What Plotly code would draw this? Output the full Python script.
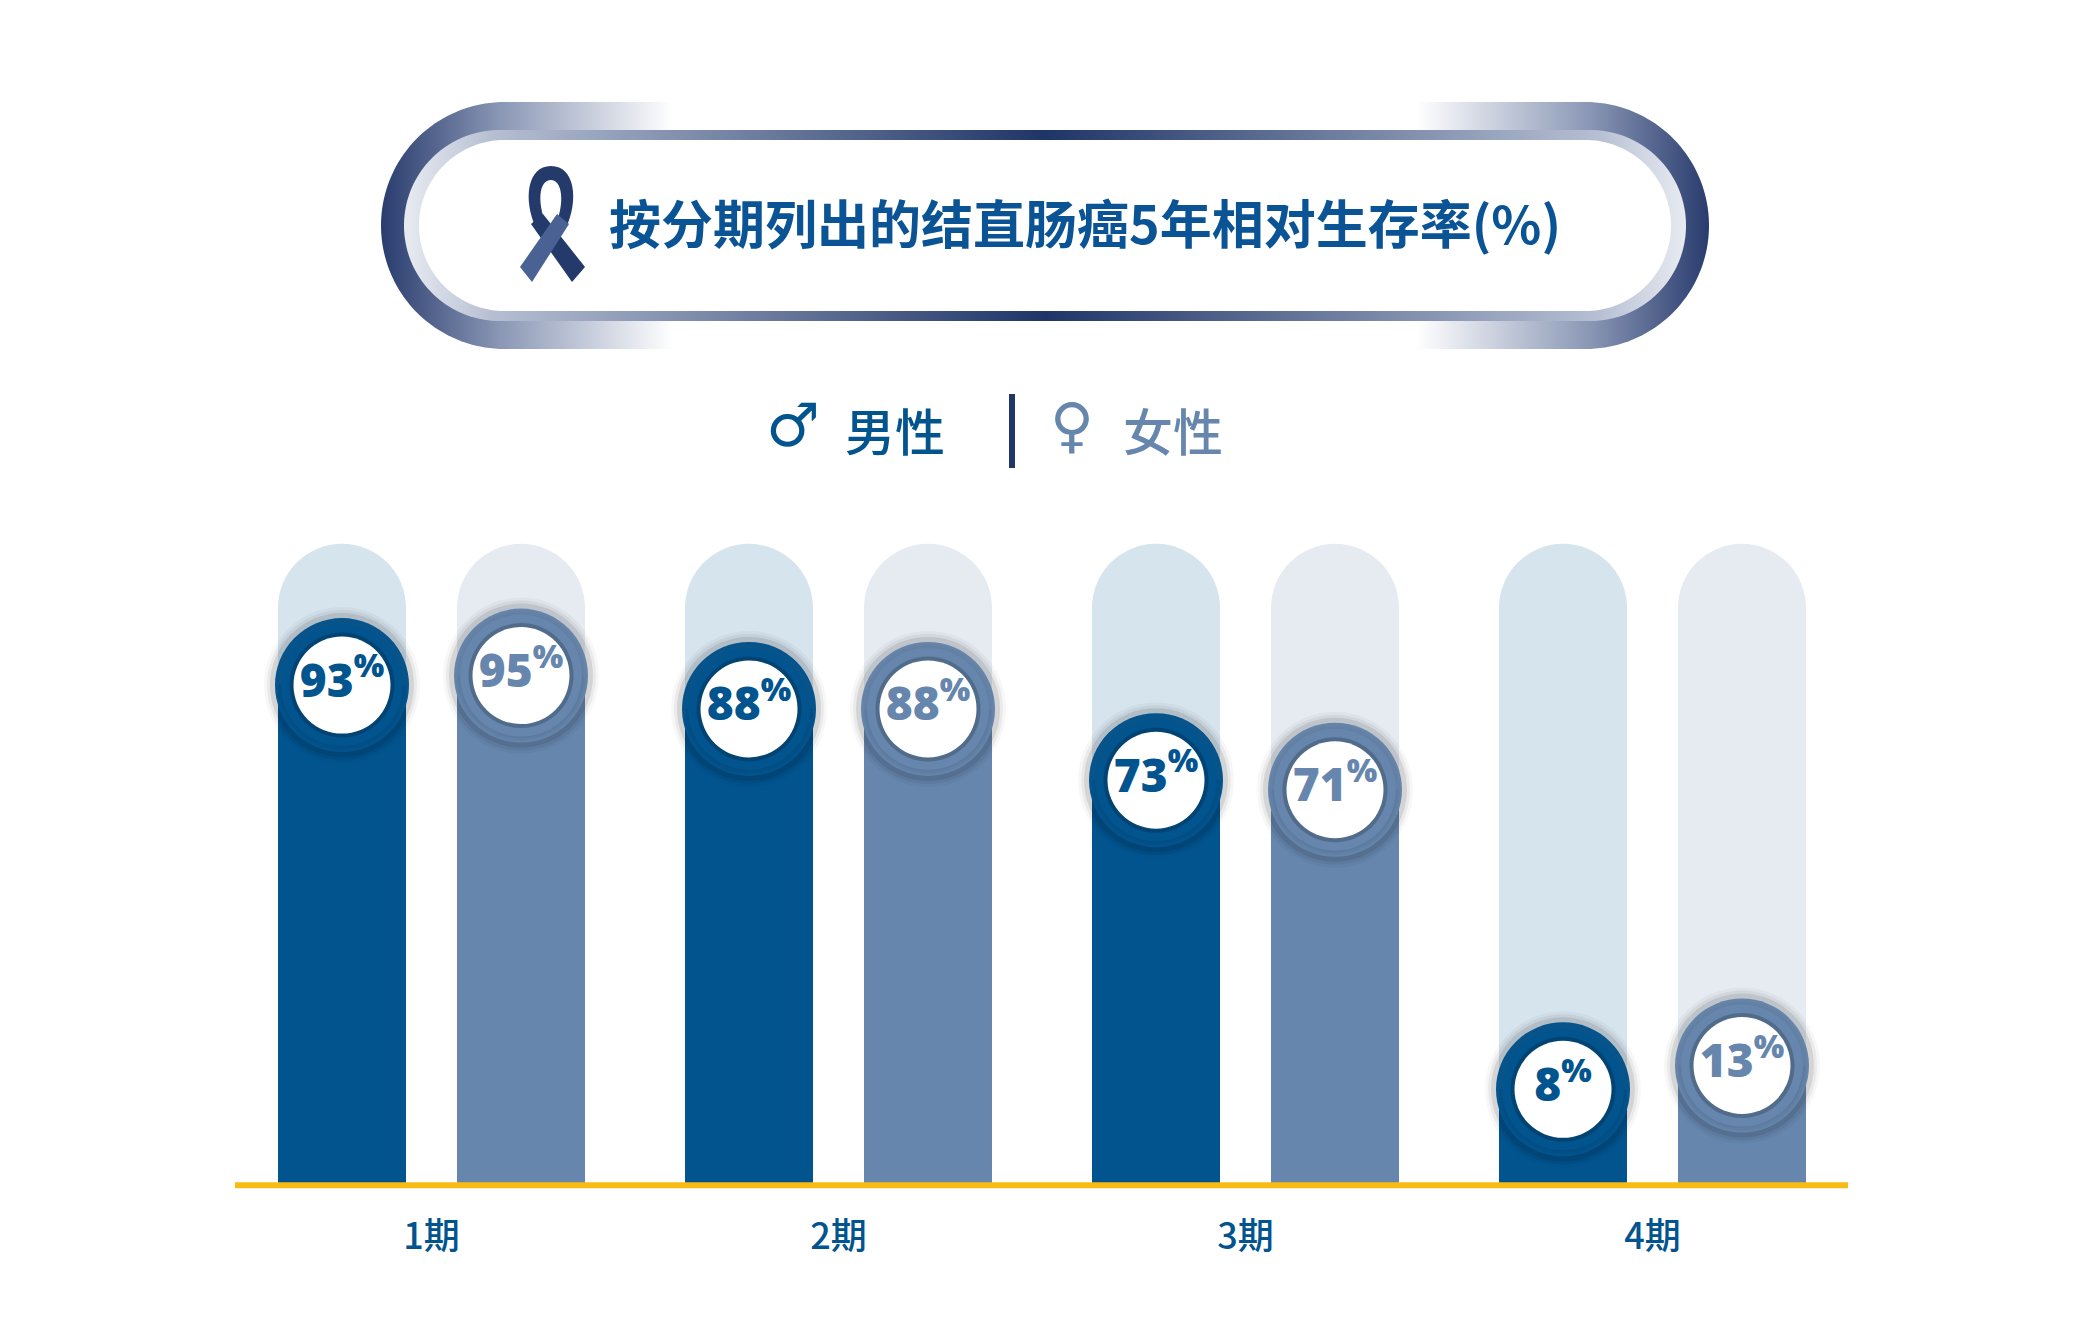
import numpy as np
import plotly.graph_objects as go

# ---- data ----
stages = ["1期", "2期", "3期", "4期"]
male = [93, 88, 73, 8]
female = [95, 88, 71, 13]
series_names = ["男性", "女性"]
title_text = "按分期列出的结直肠癌5年相对生存率(%)"

# ---- style ----
W, H = 2068, 1318     # page keeps an 8px body margin around the figure
MALE = "#02548f"
FEMALE = "#6686ad"
MALE_TRACK = "#d6e4ee"
FEMALE_TRACK = "#e6ebf2"
NAVY = "#213768"
GOLD = "#f8bb14"
TITLE_BLUE = "#0a5395"

BASE = -11.7          # value sitting on the yellow line
TRACK_TOP = 122.7     # top of the pale rounded tracks
PX_PER_UNIT = 4.7555
BASELINE_PX = 1175
X_PX = 407            # px per stage
X0_PX = 423.5         # px of the first stage centre
OFF = 89.5 / X_PX     # half distance between the two bars of a stage
BAR_W = 128 / X_PX

plot_h = BASELINE_PX
y_range = [BASE, BASE + plot_h / PX_PER_UNIT]
x_range = [-X0_PX / X_PX, (W - X0_PX) / X_PX]


def stadium(x0, x1, y0, y1, n=80):
    r = (y1 - y0) / 2
    cy = (y0 + y1) / 2
    t = np.linspace(-np.pi / 2, np.pi / 2, n)
    xr, yr = x1 - r + r * np.cos(t), cy + r * np.sin(t)
    t2 = np.linspace(np.pi / 2, 3 * np.pi / 2, n)
    xl, yl = x0 + r + r * np.cos(t2), cy + r * np.sin(t2)
    return np.r_[xr, xl, xr[:1]], np.r_[yr, yl, yr[:1]]


fig = go.Figure()

# pale tracks + value bars
series = [
    (male, -OFF, MALE, MALE_TRACK),
    (female, OFF, FEMALE, FEMALE_TRACK),
]
for vals, off, col, track in series:
    xs = [i + off for i in range(len(stages))]
    fig.add_trace(go.Bar(
        x=xs, y=[TRACK_TOP - BASE] * len(stages), base=BASE, width=BAR_W,
        marker=dict(color=track, line_width=0, cornerradius="50%"),
        hoverinfo="skip", showlegend=False,
    ))
for vals, off, col, track in series:
    xs = [i + off for i in range(len(stages))]
    fig.add_trace(go.Bar(
        x=xs, y=[v - BASE for v in vals], base=BASE, width=BAR_W,
        marker=dict(color=col, line_width=0),
        hoverinfo="skip", showlegend=False,
    ))

# value rings
for vals, off, col, track in series:
    xs = [i + off for i in range(len(stages))]
    for size, alpha in [(156, 0.03), (150, 0.05), (144, 0.09)]:
        fig.add_trace(go.Scatter(
            x=xs, y=vals, mode="markers", hoverinfo="skip", showlegend=False,
            marker=dict(size=size, color=f"rgba(0,0,0,{alpha})", line_width=0),
        ))
    fig.add_trace(go.Scatter(
        x=xs, y=vals, mode="markers", hoverinfo="skip", showlegend=False,
        marker=dict(size=134, color=col, line_width=0,
                    gradient=dict(type="radial", color="rgba(0,0,0,0.35)")),
    ))
    fig.add_trace(go.Scatter(
        x=xs, y=vals, mode="markers", hoverinfo="skip", showlegend=False,
        marker=dict(size=122, color=col, line_width=0),
    ))
    fig.add_trace(go.Scatter(
        x=xs, y=vals, mode="markers", hoverinfo="skip", showlegend=False,
        marker=dict(size=105, color="rgba(0,0,0,0.2)", line_width=0),
    ))
    fig.add_trace(go.Scatter(
        x=xs, y=vals, mode="markers+text", hoverinfo="skip", showlegend=False,
        marker=dict(size=97, color="white", line_width=0),
        text=[f"{v}<sup>%</sup>" for v in vals],
        textposition="middle center",
        textfont=dict(family="Open Sans", size=46, color=col, weight=800),
    ))

# title pill (pixel overlay axes)
pill_layers = [
    ((373, 1701, 94, 341), [[0, "#293c6e"], [0.09, "#8a97b5"], [0.22, "#ffffff"],
                            [0.78, "#ffffff"], [0.91, "#8a97b5"], [1, "#293c6e"]]),
    ((396, 1678, 122, 313), [[0, "#e8ebf1"], [0.07, "#b5bed2"], [0.5, "#1f3567"],
                             [0.93, "#b5bed2"], [1, "#e8ebf1"]]),
    ((411, 1663, 132, 303), [[0, "#ffffff"], [1, "#ffffff"]]),
]
for (x0, x1, y0, y1), cs in pill_layers:
    px, py = stadium(x0, x1, y0, y1)
    fig.add_trace(go.Scatter(
        x=px, y=py, xaxis="x2", yaxis="y2", mode="none", fill="toself",
        fillgradient=dict(type="horizontal", colorscale=cs),
        hoverinfo="skip", showlegend=False,
    ))

shapes = [
    # ribbon
    dict(type="path", xref="x2", yref="y2", line_width=0, fillcolor="#233a6b",
         path="M 543 158 C 519 158 515 192 528 220 L 538 216 C 529 194 531 172 543 172 "
              "C 554 172 557 194 548 216 L 558 220 C 571 192 567 158 543 158 Z"),
    dict(type="path", xref="x2", yref="y2", line_width=0, fillcolor="#233a6b",
         path="M 535 206 L 523 216 L 564 274 L 577 259 Z"),
    dict(type="path", xref="x2", yref="y2", line_width=0, fillcolor="#4a6293",
         path="M 549 206 L 561 216 L 524 274 L 512 259 Z"),
    # legend divider
    dict(type="line", xref="x2", yref="y2", x0=1004, x1=1004, y0=386, y1=460,
         line=dict(color=NAVY, width=6)),
    # yellow baseline (paper ref so it is not clipped at the plot edge)
    dict(type="line", xref="paper", yref="paper", x0=227 / W, x1=1840 / W, y0=-0.002, y1=-0.002,
         line=dict(color=GOLD, width=6), layer="above"),
]

annotations = [
    dict(x=599, y=213, xref="x2", yref="y2", text=title_text, showarrow=False,
         xanchor="left", yanchor="middle",
         font=dict(family="Noto Sans CJK SC", size=52, color=TITLE_BLUE, weight=700)),
    dict(x=785, y=417, xref="x2", yref="y2", text="♂", showarrow=False,
         font=dict(family="DejaVu Sans", size=60, color=MALE)),
    dict(x=835, y=421, xref="x2", yref="y2", text=series_names[0], showarrow=False,
         xanchor="left", yanchor="middle",
         font=dict(family="Noto Sans CJK SC", size=50, color=MALE, weight=500)),
    dict(x=1064, y=417, xref="x2", yref="y2", text="♀", showarrow=False,
         font=dict(family="DejaVu Sans", size=60, color=FEMALE)),
    dict(x=1113, y=421, xref="x2", yref="y2", text=series_names[1], showarrow=False,
         xanchor="left", yanchor="middle",
         font=dict(family="Noto Sans CJK SC", size=50, color=FEMALE, weight=500)),
]

fig.update_layout(
    width=W, height=H,
    margin=dict(l=0, r=0, t=0, b=H - BASELINE_PX, pad=0),
    paper_bgcolor="white", plot_bgcolor="white",
    barmode="overlay",
    shapes=shapes,
    annotations=annotations,
    xaxis=dict(range=x_range, tickvals=list(range(len(stages))), ticktext=stages,
               ticks="outside", ticklen=22, tickcolor="rgba(0,0,0,0)",
               tickfont=dict(family="Noto Sans CJK SC", size=36, color=MALE, weight=500),
               showgrid=False, zeroline=False, showline=False, fixedrange=True),
    yaxis=dict(range=y_range, visible=False, fixedrange=True),
    xaxis2=dict(range=[0, W], overlaying="x", anchor="y2", visible=False, fixedrange=True),
    yaxis2=dict(range=[plot_h, 0], overlaying="y", anchor="x2", visible=False, fixedrange=True),
)

fig.write_html("out.html")
